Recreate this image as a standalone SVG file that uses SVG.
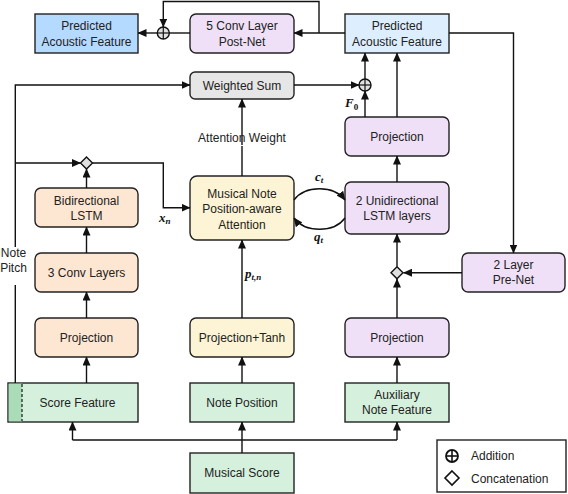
<svg xmlns="http://www.w3.org/2000/svg" width="568" height="494" viewBox="0 0 568 494">
<defs>
<marker id="ah" markerWidth="9" markerHeight="8" refX="8.5" refY="4" orient="auto" markerUnits="userSpaceOnUse">
<path d="M0,0 L9,4 L0,8 z" fill="#111"/>
</marker>
<style>
text{font-family:"Liberation Sans",Arial,sans-serif;font-size:12px;fill:#222;text-anchor:middle}
.m{font-family:"Liberation Serif","Times New Roman",serif;font-style:italic;font-weight:bold;font-size:13px;fill:#111;text-anchor:start}
.s{font-size:9px}
.bx{stroke:#222;stroke-width:1.4}
.blue{fill:#b5daff}
.lblue{fill:#ddeeff}
.lav{fill:#efe0f7}
.gray{fill:#e6e6e6}
.yel{fill:#fcf4d4}
.org{fill:#fde7d2}
.grn{fill:#d5f0dc}
.c line,.c path,.c polyline{fill:none;stroke:#111;stroke-width:1.4}
.arr{marker-end:url(#ah)}
.op{fill:#e0e0e0;stroke:#111;stroke-width:1.4}
</style>
</defs>

<g id="predicted-left"><rect class="bx blue" x="35" y="14" width="103" height="39"/><text x="86.5" y="29.5">Predicted</text><text x="86.5" y="45.5">Acoustic Feature</text></g>
<g id="postnet"><rect class="bx lav" x="190" y="14" width="104" height="39" rx="6"/><text x="242" y="29.5">5 Conv Layer</text><text x="242" y="45.5">Post-Net</text></g>
<g id="predicted-right"><rect class="bx lblue" x="345" y="14" width="104" height="39"/><text x="397" y="29.5">Predicted</text><text x="397" y="45.5">Acoustic Feature</text></g>
<g id="weighted-sum"><rect class="bx gray" x="190" y="72" width="104" height="27" rx="5"/><text x="242" y="90">Weighted Sum</text></g>
<g id="projection-r1"><rect class="bx lav" x="345" y="117" width="104" height="39" rx="6"/><text x="397" y="141">Projection</text></g>
<g id="lstm-uni"><rect class="bx lav" x="345" y="182" width="104" height="52" rx="6"/><text x="397" y="205">2 Unidirectional</text><text x="397" y="220">LSTM layers</text></g>
<g id="attention"><rect class="bx yel" x="190" y="176" width="104" height="64" rx="7"/><text x="242" y="197.5">Musical Note</text><text x="242" y="213">Position-aware</text><text x="242" y="228.5">Attention</text></g>
<g id="bilstm"><rect class="bx org" x="35" y="188" width="103" height="39" rx="6"/><text x="86.5" y="205">Bidirectional</text><text x="86.5" y="220">LSTM</text></g>
<g id="conv3"><rect class="bx org" x="35" y="253" width="103" height="39" rx="6"/><text x="86.5" y="277">3 Conv Layers</text></g>
<g id="prenet"><rect class="bx lav" x="462" y="253" width="103" height="39" rx="6"/><text x="513.5" y="269">2 Layer</text><text x="513.5" y="284">Pre-Net</text></g>
<g id="projection-l"><rect class="bx org" x="35" y="318" width="103" height="39" rx="6"/><text x="86.5" y="342">Projection</text></g>
<g id="projection-tanh"><rect class="bx yel" x="190" y="318" width="104" height="39" rx="6"/><text x="242" y="342">Projection+Tanh</text></g>
<g id="projection-r2"><rect class="bx lav" x="345" y="318" width="104" height="39" rx="6"/><text x="397" y="342">Projection</text></g>
<g id="score-feature"><rect class="bx grn" x="8" y="383" width="130" height="39"/><rect x="8.7" y="383.7" width="13.3" height="37.6" fill="#a9dcb7"/><line x1="22" y1="384" x2="22" y2="421" stroke="#333" stroke-width="1.4" stroke-dasharray="3,2"/><text x="77.5" y="407">Score Feature</text></g>
<g id="note-position"><rect class="bx grn" x="190" y="383" width="104" height="39"/><text x="242" y="407">Note Position</text></g>
<g id="aux-feature"><rect class="bx grn" x="345" y="383" width="104" height="39"/><text x="397" y="399">Auxiliary</text><text x="397" y="414">Note Feature</text></g>
<g id="musical-score"><rect class="bx grn" x="190" y="453" width="104" height="40"/><text x="242" y="477">Musical Score</text></g>

<g id="connectors" class="c">
<line class="arr" x1="157" y1="33" x2="138" y2="33"/>
<line x1="190" y1="33" x2="169" y2="33"/>
<polyline class="arr" points="319,33 319,1.5 163.3,1.5 163.3,27"/>
<line class="arr" x1="345" y1="33" x2="294" y2="33"/>
<polyline class="arr" points="449,33 513.5,33 513.5,253"/>
<line class="arr" x1="294" y1="85" x2="359" y2="85"/>
<line class="arr" x1="365" y1="79" x2="365" y2="53"/>
<line class="arr" x1="365" y1="117" x2="365" y2="91"/>
<line class="arr" x1="397" y1="117" x2="397" y2="53"/>
<line class="arr" x1="397" y1="182" x2="397" y2="156"/>
<line class="arr" x1="397" y1="266.5" x2="397" y2="234"/>
<line class="arr" x1="397" y1="318" x2="397" y2="279"/>
<line class="arr" x1="462" y1="272.7" x2="403.5" y2="272.7"/>
<line class="arr" x1="397" y1="383" x2="397" y2="357"/>
<path class="arr" d="M294,200 C305,185 334,185 345,200"/>
<path class="arr" d="M345,218 C334,233 305,233 294,218"/>
<line class="arr" x1="242" y1="145" x2="242" y2="99"/>
<line x1="242" y1="176" x2="242" y2="146"/>
<line class="arr" x1="242" y1="318" x2="242" y2="240"/>
<line class="arr" x1="242" y1="383" x2="242" y2="357"/>
<line class="arr" x1="242" y1="453" x2="242" y2="422"/>
<polyline class="arr" points="72.5,440 72.5,422"/>
<line x1="72.5" y1="440" x2="397" y2="440"/>
<line class="arr" x1="397" y1="440" x2="397" y2="422"/>
<line class="arr" x1="86.5" y1="383" x2="86.5" y2="357"/>
<line class="arr" x1="86.5" y1="318" x2="86.5" y2="292"/>
<line class="arr" x1="86.5" y1="253" x2="86.5" y2="227"/>
<line class="arr" x1="86.5" y1="188" x2="86.5" y2="169"/>
<line x1="15.3" y1="383" x2="15.3" y2="285"/>
<polyline class="arr" points="15.3,247 15.3,85 190,85"/>
<line class="arr" x1="15.3" y1="163" x2="80.5" y2="163"/>
<polyline class="arr" points="92.5,163 163.3,163 163.3,207.7 190,207.7"/>
</g>

<g id="ops">
<circle class="op" cx="163.3" cy="33" r="6"/><line x1="157.3" y1="33" x2="169.3" y2="33" stroke="#111" stroke-width="1.2"/><line x1="163.3" y1="27" x2="163.3" y2="39" stroke="#111" stroke-width="1.2"/>
<circle class="op" cx="365" cy="85" r="6"/><line x1="359" y1="85" x2="371" y2="85" stroke="#111" stroke-width="1.2"/><line x1="365" y1="79" x2="365" y2="91" stroke="#111" stroke-width="1.2"/>
<path class="op" d="M86.5,157 L92.5,163 L86.5,169 L80.5,163 z"/>
<path class="op" d="M397,266.7 L403,272.7 L397,278.7 L391,272.7 z"/>
</g>

<g id="labels">
<text x="242" y="142">Attention Weight</text>
<text x="13.5" y="257">Note</text>
<text x="13.5" y="272">Pitch</text>
<text class="m" x="345" y="107">F<tspan class="s" dy="3" style="font-style:normal">0</tspan></text>
<text class="m" x="315" y="181">c<tspan class="s" dy="2">t</tspan></text>
<text class="m" x="314" y="241">q<tspan class="s" dy="2">t</tspan></text>
<text class="m" x="159" y="222">x<tspan class="s" dy="2">n</tspan></text>
<text class="m" x="245" y="278">p<tspan class="s" dy="2">t,n</tspan></text>
</g>

<g id="legend">
<rect x="437" y="440" width="129" height="52" fill="#fff" stroke="#222" stroke-width="1.4"/>
<circle cx="452" cy="456" r="6" fill="#fff" stroke="#111" stroke-width="1.8"/><line x1="446" y1="456" x2="458" y2="456" stroke="#111" stroke-width="1.6"/><line x1="452" y1="450" x2="452" y2="462" stroke="#111" stroke-width="1.6"/>
<text x="471" y="460" style="text-anchor:start">Addition</text>
<path d="M452,471 L459,478 L452,485 L445,478 z" fill="#fff" stroke="#111" stroke-width="1.6"/>
<text x="471" y="482.5" style="text-anchor:start">Concatenation</text>
</g>
</svg>
